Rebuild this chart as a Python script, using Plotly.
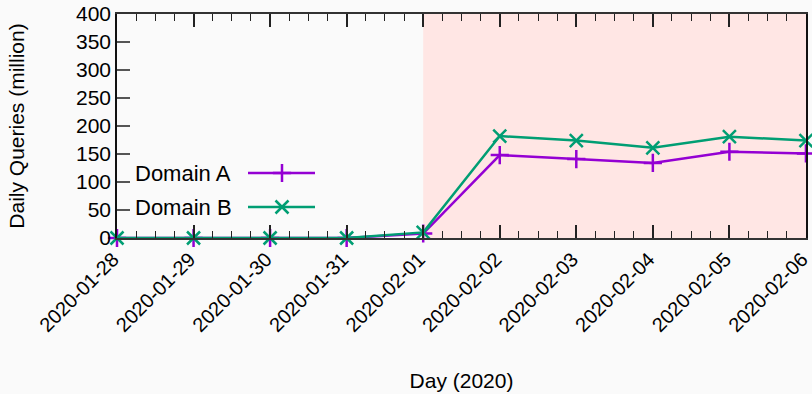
import plotly.graph_objects as go

days = ["2020-01-28", "2020-01-29", "2020-01-30", "2020-01-31", "2020-02-01",
        "2020-02-02", "2020-02-03", "2020-02-04", "2020-02-05", "2020-02-06"]
domain_a = [0, 0, 0, 0, 8, 148, 141, 134, 154, 151]
domain_b = [0, 0, 0, 0, 10, 182, 174, 161, 181, 174]
series_names = ["Domain A", "Domain B"]
shade_start = "2020-02-01"
y_ticks = [0, 50, 100, 150, 200, 250, 300, 350, 400]

PURPLE = "#9400d3"
GREEN = "#009e73"
FONT = "Liberation Sans, Arial, sans-serif"

fig = go.Figure()

fig.add_shape(type="rect", xref="x", yref="paper", x0=shade_start, x1=days[-1] + " 00:01",
              y0=0, y1=1, fillcolor="#ffe6e4", line_width=0, layer="below")

fig.add_trace(go.Scatter(x=days, y=domain_a, mode="lines+markers", name=series_names[0],
                         line=dict(color=PURPLE, width=2.5),
                         marker=dict(symbol="cross-thin", size=13, line=dict(color=PURPLE, width=2.5)),
                         showlegend=False, cliponaxis=False))
fig.add_trace(go.Scatter(x=days, y=domain_b, mode="lines+markers", name=series_names[1],
                         line=dict(color=GREEN, width=2.5),
                         marker=dict(symbol="x-thin", size=13, line=dict(color=GREEN, width=2.5)),
                         showlegend=False, cliponaxis=False))

# gnuplot-style legend: text then sample, drawn on a pixel-scaled overlay axis
legend_rows = [(series_names[0], PURPLE, "cross-thin", 173), (series_names[1], GREEN, "x-thin", 207)]
for name, col, sym, ly in legend_rows:
    fig.add_trace(go.Scatter(x=[248, 315], y=[ly, ly], mode="lines", xaxis="x2", yaxis="y2",
                             line=dict(color=col, width=2.5), showlegend=False, hoverinfo="skip"))
    fig.add_trace(go.Scatter(x=[282], y=[ly], mode="markers", xaxis="x2", yaxis="y2",
                             marker=dict(symbol=sym, size=13, line=dict(color=col, width=2.5)),
                             showlegend=False, hoverinfo="skip"))
    fig.add_annotation(x=133, y=ly, xref="x2", yref="y2", text=name, showarrow=False,
                       xanchor="left", yanchor="middle", font=dict(size=22, color="black", family=FONT))

fig.update_layout(
    width=812, height=394,
    margin=dict(l=117, r=6, t=14, b=156),
    paper_bgcolor="#fafafa", plot_bgcolor="#fafafa",
    font=dict(family=FONT, size=21, color="black"),
    xaxis=dict(type="date", range=[days[0], days[-1] + " 00:01"], tickvals=days, ticktext=days,
               tickangle=-45, tickfont=dict(size=20), ticklabeloverflow="allow", automargin=False,
               ticklabelshift=-4,
               ticks="inside", ticklen=13, tickwidth=1.5, tickcolor="#222",
               minor=dict(dtick=6 * 3600 * 1000, ticks="inside", ticklen=7, tickwidth=1, tickcolor="#222"),
               showline=True, linecolor="#333", linewidth=1.5, mirror="allticks",
               showgrid=False, zeroline=False,
               title=dict(text="Day (2020)", font=dict(size=21), standoff=38)),
    yaxis=dict(range=[0, 400], tickvals=y_ticks, ticks="inside", ticklen=13, tickwidth=1.5,
               tickcolor="#555", showline=True, linecolor="#111", linewidth=1.5, mirror=True,
               showgrid=False, zeroline=False, tickfont=dict(size=21), automargin=False,
               title=dict(text="Daily Queries (million)", font=dict(size=21), standoff=46)),
    xaxis2=dict(overlaying="x", range=[117, 806], visible=False, fixedrange=True),
    yaxis2=dict(overlaying="y", range=[238, 14], visible=False, fixedrange=True),
)

fig.write_html("out.html", config={"displayModeBar": False},
               post_script="document.body.style.margin='0';document.body.style.background='#fafafa';")
